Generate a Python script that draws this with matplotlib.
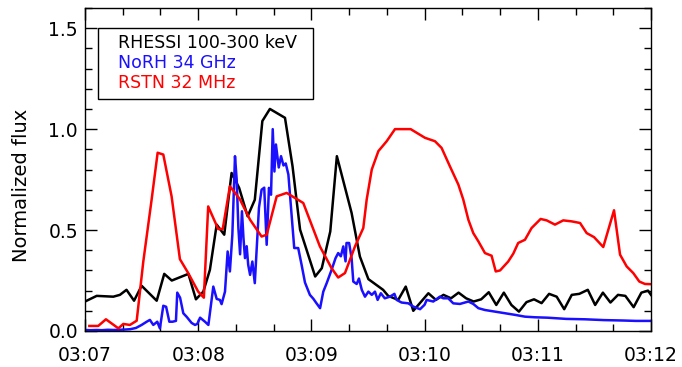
import matplotlib
matplotlib.use('Agg')
import matplotlib.pyplot as plt
from matplotlib.patches import Rectangle
from matplotlib.ticker import MultipleLocator

# tiempo en segundos desde 03:07:00
rhessi_t = [0, 6.2, 15, 18.5, 22, 26, 30, 38, 42, 46, 54.8, 58.8, 62.7, 66.2, 69.8, 73.8,
            77.7, 81.7, 86.2, 90, 94, 98, 106, 110, 114, 122, 125.5, 130, 133.5, 141.3,
            145.7, 150.2, 158, 160.7, 166, 170, 174, 182, 186, 190, 194, 198, 202, 206,
            210, 214, 218, 222, 226, 230, 234, 238, 242, 246, 250, 254, 258, 262, 266.5,
            270.4, 274.5, 278.5, 282.5, 286.4, 290.8, 294.9, 298.4, 300]
rhessi_v = [0.146, 0.174, 0.17, 0.179, 0.204, 0.15, 0.224, 0.15, 0.283, 0.25, 0.283, 0.157,
            0.195, 0.303, 0.527, 0.477, 0.783, 0.709, 0.568, 0.65, 1.04, 1.10, 1.056, 0.816,
            0.502, 0.27, 0.311, 0.493, 0.866, 0.585, 0.369, 0.257, 0.204, 0.174, 0.154,
            0.22, 0.10, 0.187, 0.154, 0.179, 0.162, 0.19, 0.162, 0.146, 0.157, 0.192, 0.129,
            0.19, 0.129, 0.096, 0.143, 0.157, 0.138, 0.184, 0.17, 0.108, 0.179, 0.184,
            0.204, 0.129, 0.19, 0.141, 0.179, 0.174, 0.118, 0.19, 0.2, 0.179]

norh_t = [0, 3, 6, 9, 12, 15, 18, 21, 24, 27, 30, 32.7, 34.4, 36.2, 38.3, 39.7, 41.5, 43,
          44.7, 46.4, 48.2, 48.9, 50.4, 52.1, 53.9, 56.5, 58.3, 59.5, 61, 63.6, 65.4, 68,
          69.8, 71.5, 72.4, 74.2, 75.6, 76.8, 78.1, 79.5, 80.4, 81.3, 82.2, 83.2, 84, 84.8,
          85.7, 86.5, 87.5, 88.7, 90, 91, 92.2, 93.6, 95, 96.3, 97.5, 98.6, 99.5, 100.4,
          101.2, 102.7, 103.9, 105.2, 106.4, 107.8, 109.5, 110.9, 113, 114.8, 116.6, 119.2,
          121, 122.5, 124.6, 126.3, 128.1, 130.7, 132.8, 134.2, 135.6, 136.9, 138.1, 138.6,
          140, 141.3, 142.2, 144, 145.2, 146.7, 148.4, 150.2, 152, 153.7, 155.1, 156.8,
          158.9, 161.6, 164, 165.2, 167.8, 171.4, 174, 177.6, 180, 181.1, 184.6, 188.1,
          189.9, 192.5, 195.2, 198.7, 203.2, 205.8, 208.5, 212, 217.3, 222.6, 227.9, 233.2,
          238.5, 245, 255, 265, 275, 285, 292, 300]
norh_v = [0.005, 0.004, 0.005, 0.004, 0.006, 0.005, 0.006, 0.007, 0.009, 0.015, 0.03, 0.046,
          0.055, 0.03, 0.046, 0.013, 0.125, 0.12, 0.046, 0.046, 0.05, 0.19, 0.165, 0.088,
          0.07, 0.04, 0.03, 0.035, 0.066, 0.046, 0.03, 0.22, 0.159, 0.154, 0.133, 0.195,
          0.394, 0.295, 0.477, 0.866, 0.75, 0.51, 0.38, 0.593, 0.46, 0.361, 0.42, 0.328,
          0.278, 0.344, 0.237, 0.411, 0.61, 0.70, 0.71, 0.427, 0.709, 0.675, 1.0, 0.79,
          0.924, 0.81, 0.866, 0.82, 0.83, 0.775, 0.576, 0.411, 0.411, 0.328, 0.24, 0.179,
          0.16, 0.14, 0.113, 0.195, 0.237, 0.303, 0.361, 0.386, 0.37, 0.419, 0.345, 0.436,
          0.436, 0.361, 0.245, 0.233, 0.26, 0.204, 0.17, 0.195, 0.179, 0.195, 0.154, 0.187,
          0.162, 0.17, 0.184, 0.154, 0.141, 0.137, 0.121, 0.108, 0.13, 0.154, 0.146, 0.17,
          0.162, 0.162, 0.137, 0.134, 0.146, 0.134, 0.113, 0.104, 0.096, 0.088, 0.08, 0.071,
          0.068, 0.066, 0.06, 0.058, 0.054, 0.052, 0.05, 0.05]

rstn_t = [2.3, 7, 11.1, 17.7, 20.3, 23.8, 27.4, 30.9, 35.3, 38.5, 41.5, 45.9, 50.3, 54.7,
          60, 63, 65.3, 70.6, 73, 76.8, 82, 87.5, 93.6, 96.3, 101.6, 106.9, 115.7, 124.5,
          130.7, 134.2, 137.8, 143.1, 147.5, 149.3, 152, 155.5, 159.9, 164.3, 172.6, 180.2,
          185.5, 189, 193.4, 197.9, 200.5, 203.2, 205.8, 208.5, 212, 215.5, 217.7, 220,
          224.3, 227, 229.6, 233.2, 236.7, 241.5, 244.7, 249.1, 253.5, 258, 262.4, 265.9,
          269.8, 274.7, 280.4, 283.6, 287.1, 290.6, 293.8, 296.8, 300]
rstn_v = [0.025, 0.025, 0.058, 0.013, 0.035, 0.03, 0.051, 0.344, 0.65, 0.883, 0.874, 0.667,
          0.356, 0.287, 0.195, 0.165, 0.617, 0.505, 0.505, 0.717, 0.654, 0.551, 0.468, 0.477,
          0.667, 0.684, 0.634, 0.419, 0.311, 0.265, 0.287, 0.419, 0.51, 0.651, 0.80, 0.891,
          0.94, 1.0, 1.0, 0.957, 0.94, 0.907, 0.816, 0.725, 0.651, 0.551, 0.485, 0.444,
          0.386, 0.373, 0.295, 0.3, 0.344, 0.383, 0.436, 0.452, 0.51, 0.555, 0.548, 0.527,
          0.548, 0.543, 0.535, 0.485, 0.465, 0.416, 0.598, 0.378, 0.32, 0.287, 0.245, 0.233,
          0.232]

tick_pos = [0, 60, 120, 180, 240, 300]
tick_labels = ['03:07', '03:08', '03:09', '03:10', '03:11', '03:12']
labels = ['RHESSI 100-300 keV', 'NoRH 34 GHz', 'RSTN 32 MHz']
colors = ['black', '#1a0fff', 'red']

plt.rcParams['font.family'] = ['DejaVu Sans']

fig = plt.figure(figsize=(6.82, 3.67), dpi=100)
ax = fig.add_axes([85 / 682, 36 / 367, 566 / 682, 323 / 367])

ax.plot(rhessi_t, rhessi_v, color=colors[0], lw=1.8)
ax.plot(norh_t, norh_v, color=colors[1], lw=1.8)
ax.plot(rstn_t, rstn_v, color=colors[2], lw=1.8)

ax.set_xlim(0, 300)
ax.set_ylim(0, 1.6)
ax.set_xticks(tick_pos)
ax.set_xticklabels(tick_labels)
ax.xaxis.set_minor_locator(MultipleLocator(20))
ax.set_yticks([0, 0.5, 1.0, 1.5])
ax.set_yticklabels(['0.0', '0.5', '1.0', '1.5'])
ax.yaxis.set_minor_locator(MultipleLocator(0.1))
ax.tick_params(which='both', direction='in', top=True, right=True, width=1, labelsize=13.5)
ax.tick_params(which='major', length=8.6)
ax.tick_params(which='minor', length=5)
ax.tick_params(axis='x', pad=11)
ax.tick_params(axis='y', pad=5)
for s in ax.spines.values():
    s.set_linewidth(1)

ax.set_ylabel('Normalized flux', fontsize=14)
ax.yaxis.set_label_coords(-0.095, 0.45)

# caja de leyenda
ax.add_patch(Rectangle((0.0224, 0.718), 0.3806, 0.22, transform=ax.transAxes,
                       fill=False, edgecolor='black', lw=1, zorder=5))
for i, (lab, c) in enumerate(zip(labels, colors)):
    ax.text(0.058, 0.892 - i * 0.062, lab, color=c, fontsize=12.5,
            transform=ax.transAxes, va='center', ha='left', zorder=6)

plt.savefig('out.png', dpi=100)
plt.close(fig)
